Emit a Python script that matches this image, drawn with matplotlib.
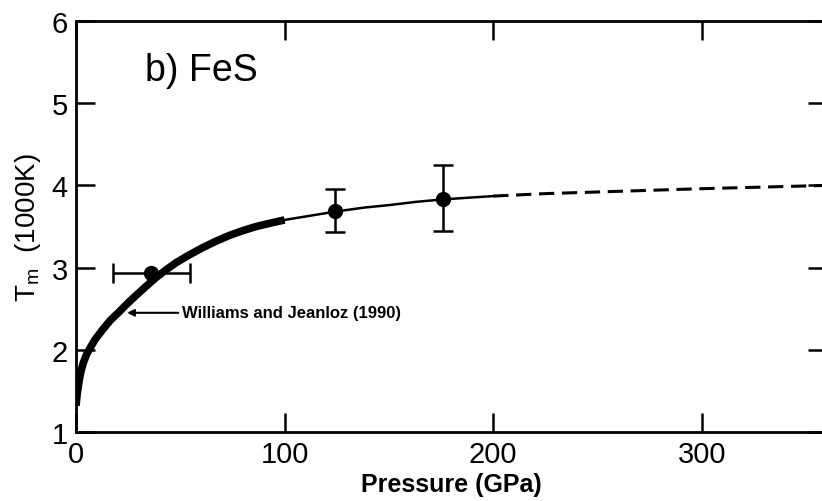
import matplotlib
matplotlib.use('Agg')
import matplotlib.pyplot as plt

plt.rcParams['font.family'] = ['Liberation Sans', 'DejaVu Sans']

# melting curve (pressure GPa, T in 1000 K)
curve_p = [0, 0.6, 1.3, 2.2, 3.5, 5, 6.5, 9, 12.6, 16.5, 20.6, 24.5, 28.7,
           33.5, 38.4, 43, 48, 54, 60.5, 67, 73.4, 80, 86.4, 93, 100]
curve_t = [1.32, 1.47, 1.59, 1.72, 1.84, 1.94, 2.01, 2.12, 2.24, 2.36, 2.46,
           2.56, 2.66, 2.77, 2.88, 2.97, 3.06, 3.15, 3.24, 3.32, 3.39, 3.45,
           3.50, 3.54, 3.58]
thin_p = [100, 112, 124, 138, 150, 163, 176, 188, 200]
thin_t = [3.58, 3.63, 3.68, 3.73, 3.76, 3.80, 3.83, 3.85, 3.87]
dash_p = [200, 225, 250, 275, 300, 330, 360]
dash_t = [3.87, 3.90, 3.92, 3.94, 3.96, 3.98, 4.00]

# data points
pts_p = [36, 124, 176]
pts_t = [2.93, 3.69, 3.83]
p_err = [18.5, 0, 0]
t_err_lo = [0, 0.26, 0.39]
t_err_hi = [0, 0.27, 0.42]

xticks = [0, 100, 200, 300]
yticks = [1, 2, 3, 4, 5, 6]

fig = plt.figure(figsize=(8.22, 5.02), dpi=100)
ax = fig.add_axes([76 / 822, 69 / 502, 751 / 822, 411 / 502])

ax.plot(curve_p, curve_t, color='black', lw=5.5, solid_capstyle='butt',
        solid_joinstyle='round')
ax.plot(thin_p, thin_t, color='black', lw=1.8)
ax.plot(dash_p, dash_t, color='black', lw=2.2, dashes=(5, 2.5))

ax.errorbar(pts_p[0], pts_t[0], xerr=p_err[0], fmt='o', color='black',
            ms=10, elinewidth=1.8, capsize=7, capthick=1.8)
ax.errorbar(pts_p[1:], pts_t[1:], yerr=[t_err_lo[1:], t_err_hi[1:]], fmt='o',
            color='black', ms=10, elinewidth=1.8, capsize=7, capthick=1.8)

ax.annotate('Williams and Jeanloz (1990)', xy=(24.5, 2.45), xytext=(51, 2.45),
            fontsize=12, fontweight='bold', va='center', ha='left',
            arrowprops=dict(arrowstyle='-|>', color='black', lw=1.5,
                            mutation_scale=10, shrinkA=1, shrinkB=0))

ax.text(33, 5.4, 'b) FeS', fontsize=27, va='center', ha='left')

ax.set_xlim(0, 360)
ax.set_ylim(1, 6)
ax.set_xticks(xticks)
ax.set_yticks(yticks)
ax.tick_params(direction='in', length=14, width=1.8, labelsize=21,
               top=True, right=True, pad=6)
for s in ax.spines.values():
    s.set_linewidth(2)

ax.set_xlabel('Pressure (GPa)', fontsize=18, fontweight='bold', labelpad=3)
ax.set_ylabel('T$_\\mathregular{m}$  (1000K)', fontsize=20, labelpad=6)

fig.savefig('out.png', dpi=100)
